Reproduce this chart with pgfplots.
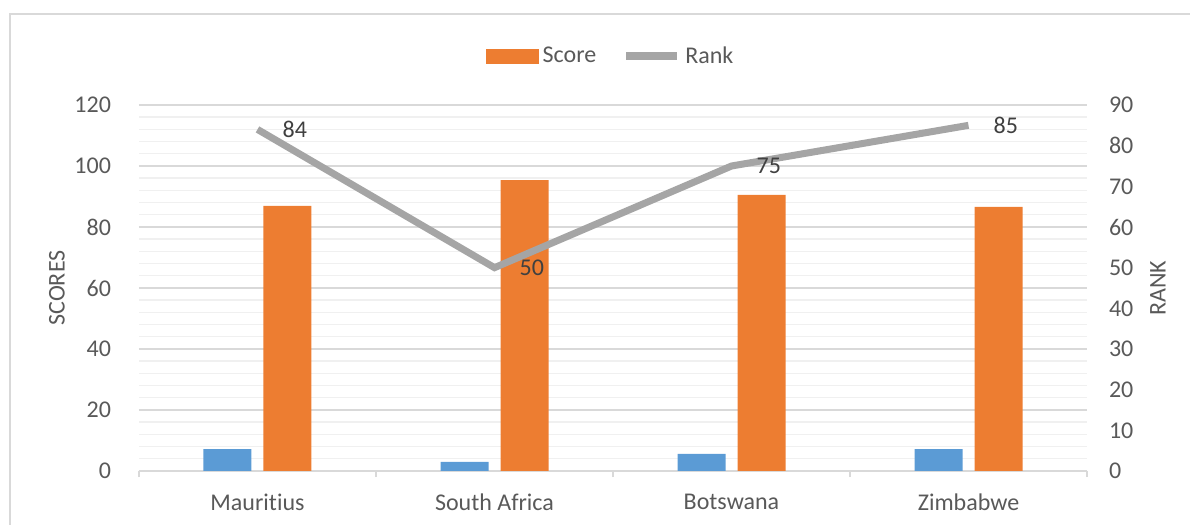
\documentclass[border=0pt]{standalone}
\usepackage{fontspec}
\setmainfont{Carlito}[Ligatures=NoCommon]
\usepackage{pgfplots}
\pgfplotsset{compat=1.18}
\definecolor{cblue}{HTML}{5B9BD5}
\definecolor{corange}{HTML}{ED7D31}
\definecolor{cgray}{HTML}{A5A5A5}
\definecolor{ctext}{HTML}{595959}
\definecolor{cgrid}{HTML}{D9D9D9}
\definecolor{cminor}{HTML}{F0F0F0}
\definecolor{clabel}{HTML}{404040}
\newcommand{\chfont}{\fontsize{12}{14}\selectfont}
\begin{document}
\begin{tikzpicture}
\useasboundingbox (0pt,0pt) rectangle (595pt,262.5pt);
\draw[cgrid, line width=0.9pt] (5pt,-3pt) -- (5pt,255.5pt) -- (600pt,255.5pt);
\begin{axis}[
  at={(69.5pt,27pt)}, anchor=south west,
  scale only axis, width=474pt, height=183pt,
  xmin=-0.5, xmax=3.5, ymin=0, ymax=120,
  axis x line*=bottom, axis y line*=left,
  y axis line style={draw=none},
  x axis line style={draw=cgrid, line width=0.9pt},
  xtick={-0.5,0.5,1.5,2.5,3.5}, xticklabels={},
  xtick style={draw=cgrid, line width=0.9pt},
  tick align=outside, major tick length=3pt,
  extra x ticks={0,1,2,3},
  extra x tick labels={Mauritius,South Africa,Botswana,Zimbabwe},
  extra x tick style={major tick length=0pt, xtick style={draw=none}},
  xticklabel style={yshift=-8pt},
  ytick={0,20,...,120},
  ytick style={draw=none}, minor y tick num=4, minor tick length=0pt,
  ymajorgrids, yminorgrids,
  major grid style={cgrid, line width=0.7pt},
  minor grid style={cminor, line width=0.7pt},
  tick label style={font=\chfont, text=ctext},
  yticklabel style={xshift=-7.5pt},
  /pgf/number format/assume math mode=true,
]
\addplot[ybar, bar width=24pt, bar shift=-15pt, fill=cblue, draw=none, forget plot]
  coordinates {(0,7.2) (1,3.0) (2,5.6) (3,7.2)};
\addplot[ybar, bar width=24pt, bar shift=15pt, fill=corange, draw=none, forget plot]
  coordinates {(0,86.9) (1,95.4) (2,90.5) (3,86.6)};
\end{axis}
\begin{axis}[
  at={(69.5pt,27pt)}, anchor=south west,
  scale only axis, width=474pt, height=183pt,
  xmin=-0.5, xmax=3.5, ymin=0, ymax=90,
  axis x line=none, axis y line*=right,
  y axis line style={draw=none},
  ytick={0,10,...,90}, ytick style={draw=none}, major tick length=0pt,
  tick label style={font=\chfont, text=ctext},
  yticklabel style={xshift=7.5pt},
  /pgf/number format/assume math mode=true,
  legend columns=2,
  legend style={draw=none, fill=none, at={(0.4985,1.133)}, anchor=center,
    font=\chfont, text=ctext,
    /tikz/every even column/.append style={column sep=11pt}},
]
\addlegendimage{legend image code/.code={\fill[corange] (0pt,-3.5pt) rectangle (26pt,3.5pt);}}
\addlegendentry{Score}
\addplot[cgray, line width=3.5pt, mark=none,
  legend image code/.code={\draw[cgray, line width=4pt] (0pt,0pt) -- (25.5pt,0pt);},
  nodes near coords,
  every node near coord/.append style={anchor=west, xshift=7.5pt, text=clabel, font=\chfont}]
  coordinates {(0,84) (1,50) (2,75) (3,85)};
\addlegendentry{Rank}
\end{axis}
\node[rotate=90, text=ctext, font=\chfont] at (28.5pt,118.5pt) {SCORES};
\node[rotate=90, text=ctext, font=\chfont] at (579pt,118.5pt) {RANK};
\end{tikzpicture}
\end{document}
